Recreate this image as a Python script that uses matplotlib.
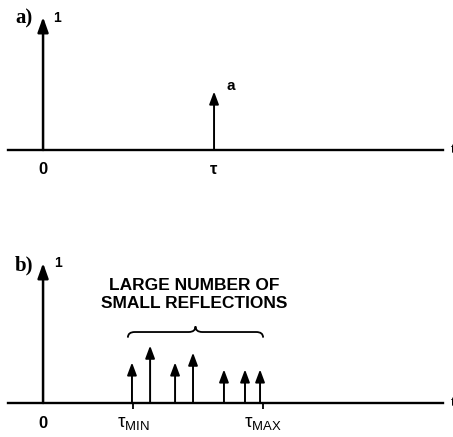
import numpy as np
import matplotlib
matplotlib.use("Agg")
import matplotlib.pyplot as plt
from matplotlib.path import Path
from matplotlib.patches import PathPatch

# Data: delay positions (in units of tau) and reflection amplitudes
tau = 1.0
times_a = [0.0, tau]
amps_a = [1.0, 0.44]
labels_a = ["1", "a"]

tau_min = 0.526
tau_max = 1.287
times_b = [0.0, 0.52, 0.626, 0.772, 0.877, 1.058, 1.181, 1.269]
amps_b = [1.0, 0.29, 0.41, 0.29, 0.36, 0.24, 0.24, 0.24]

ticks_a = [0.0, tau]
ticklabels_a = ["0", "τ"]
ticks_b = [0.0, tau_min, tau_max]
ticklabels_b = ["0", r"$\mathregular{τ}_{\mathregular{MIN}}$", r"$\mathregular{τ}_{\mathregular{MAX}}$"]

brace_text = "LARGE NUMBER OF\nSMALL REFLECTIONS"

W, H = 453, 437
fig = plt.figure(figsize=(W / 100, H / 100), dpi=100)
plt.rcParams['font.family'] = ['Liberation Sans', 'DejaVu Sans']

x_lo, x_hi = -0.205, 2.339


def make_axes(axis_px, unit_px):
    # axis_px: pixel row of the time axis (from top), unit_px: pixels per unit amplitude
    ax = fig.add_axes([8 / W, (H - axis_px) / H, 435 / W, 1.1 * unit_px / H])
    ax.set_xlim(x_lo, x_hi)
    ax.set_ylim(0, 1.1)
    for s in ["top", "left", "right"]:
        ax.spines[s].set_visible(False)
    ax.spines["bottom"].set_linewidth(1.7)
    ax.set_yticks([])
    return ax


def draw_arrow(ax, t, amp, big=False):
    hl, hw = (0.9, 0.32) if big else (0.75, 0.28)
    ax.annotate("", xy=(t, amp), xytext=(t, 0),
                arrowprops=dict(arrowstyle=f"-|>,head_length={hl},head_width={hw}",
                                lw=1.8 if big else 1.4, color="black",
                                shrinkA=0, shrinkB=0, mutation_scale=10))


# ---- panel a ----
ax1 = make_axes(150, 133)
for t, a in zip(times_a, amps_a):
    draw_arrow(ax1, t, a, big=(a == 1.0))
ax1.annotate(labels_a[0], xy=(times_a[0], amps_a[0]), xytext=(10, -1),
             textcoords="offset points", ha="center", va="center",
             fontsize=10, fontweight="bold")
ax1.annotate(labels_a[1], xy=(times_a[1], amps_a[1]), xytext=(12, 4),
             textcoords="offset points", ha="center", va="center",
             fontsize=11, fontweight="bold")
ax1.set_xticks(ticks_a)
ax1.set_xticklabels(ticklabels_a, fontsize=12, fontweight="bold")
ax1.tick_params(axis="x", length=0, pad=9)

# ---- panel b ----
ax2 = make_axes(403, 140)
for t, a in zip(times_b, amps_b):
    draw_arrow(ax2, t, a, big=(a == 1.0))
ax2.annotate("1", xy=(times_b[0], amps_b[0]), xytext=(11, 0),
             textcoords="offset points", ha="center", va="center",
             fontsize=10, fontweight="bold")
ax2.set_xticks(ticks_b)
ax2.set_xticklabels(ticklabels_b, fontsize=13.5)
ax2.tick_params(axis="x", direction="out", length=4, width=1.3, pad=5)
ax2.xaxis.get_major_ticks()[0].tick1line.set_visible(False)
ax2.get_xticklabels()[0].set_fontweight("bold")
ax2.get_xticklabels()[0].set_fontsize(12)

# curly brace over the small reflections
by, bd = 0.507, 0.04
x0, x1 = tau_min - 0.03, tau_max
xm = (x0 + x1) / 2
r = 0.04
verts = [(x0, by - bd), (x0, by), (x0 + r, by),
         (xm - r, by), (xm, by), (xm, by + bd),
         (xm, by), (xm + r, by),
         (x1 - r, by), (x1, by), (x1, by - bd)]
codes = [Path.MOVETO, Path.CURVE3, Path.CURVE3,
         Path.LINETO, Path.CURVE3, Path.CURVE3,
         Path.CURVE3, Path.CURVE3,
         Path.LINETO, Path.CURVE3, Path.CURVE3]
ax2.add_patch(PathPatch(Path(verts, codes), fill=False, lw=1.3, color="black", clip_on=False))
ax2.text(0.883, 0.775, brace_text, ha="center", va="center", fontsize=12.5,
         fontweight="bold", linespacing=1.25, clip_on=False)

# panel letters
fig.text(24 / W, 1 - 18 / H, "a)", family="Liberation Serif", fontweight="bold",
         fontsize=15, ha="center", va="center")
fig.text(24 / W, 1 - 265 / H, "b)", family="Liberation Serif", fontweight="bold",
         fontsize=15, ha="center", va="center")
fig.text(451 / W, 1 - 150 / H, "t", fontsize=9, ha="left", va="center")
fig.text(451 / W, 1 - 403 / H, "t", fontsize=9, ha="left", va="center")

fig.savefig("out.png", dpi=100)
